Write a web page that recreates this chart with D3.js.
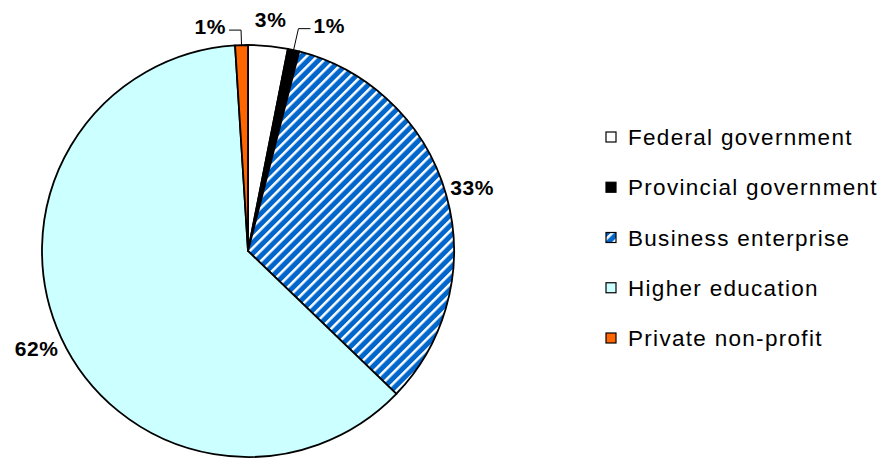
<!DOCTYPE html>
<html>
<head>
<meta charset="utf-8">
<script src="https://cdn.jsdelivr.net/npm/d3@7"></script>
<style>
  body { margin: 0; background: #fff; }
  svg { display: block; font-family: "Liberation Sans", Arial, sans-serif; }
</style>
</head>
<body>
<svg></svg>
<script>
// R&D performance by sector (share of total)
var categories = ["Federal government", "Provincial government", "Business enterprise", "Higher education", "Private non-profit"];
var values = [3.1, 0.9, 33.2, 61.8, 1.0];
var colors = ["#ffffff", "#000000", "url(#stripes)", "#ccffff", "#ff6600"];

var w = 881;
var h = 458;
var cx = 248, cy = 251, r = 206;

var svg = d3.select("svg")
    .attr("width", w)
    .attr("height", h);

// blue with white diagonal stripes
var pat = svg.append("defs").append("pattern")
    .attr("id", "stripes")
    .attr("patternUnits", "userSpaceOnUse")
    .attr("width", 7.5)
    .attr("height", 7.5)
    .attr("patternTransform", "rotate(45)");
pat.append("rect").attr("width", 7.5).attr("height", 7.5).attr("fill", "#0066cc");
pat.append("rect").attr("width", 2.5).attr("height", 7.5).attr("fill", "#ffffff");

var pie = d3.pie().sort(null).value(function (d) { return d; });
var arcs = pie(values);

var arc = d3.arc().innerRadius(0).outerRadius(r);
var labelArc = d3.arc().innerRadius(233).outerRadius(233);

var g = svg.append("g").attr("transform", "translate(" + cx + "," + cy + ")");

g.selectAll("path")
    .data(arcs)
    .enter()
    .append("path")
    .attr("d", arc)
    .attr("fill", function (d, i) { return colors[i]; })
    .attr("stroke", "#000")
    .attr("stroke-width", 1.8)
    .attr("stroke-linejoin", "round");

function mid(d) { return (d.startAngle + d.endAngle) / 2; }
function pct(d) { return Math.round(d.data) + "%"; }
function small(d) { return d.data < 1.5; }

// labels for the bigger slices sit just outside the rim
g.selectAll("text.big")
    .data(arcs.filter(function (d) { return !small(d); }))
    .enter()
    .append("text")
    .attr("class", "big")
    .attr("x", function (d) { return labelArc.centroid(d)[0]; })
    .attr("y", function (d) { return labelArc.centroid(d)[1]; })
    .attr("dy", "0.36em")
    .attr("text-anchor", "middle")
    .attr("font-size", "21px")
    .attr("font-weight", "bold")
    .attr("letter-spacing", "0.6px")
    .text(pct);

// thin slices get a leader line
var lead = arcs.filter(small);
lead.forEach(function (d) {
    var a = mid(d);
    var side = Math.sin(a) >= 0 ? 1 : -1;
    var len = side > 0 ? 22 : 15;
    var x0 = Math.sin(a) * r, y0 = -Math.cos(a) * r;
    var x1 = Math.sin(a) * (r + len), y1 = -Math.cos(a) * (r + len);
    var x2 = x1 + side * 12;
    g.append("polyline")
        .attr("points", [[x0, y0], [x1, y1], [x2, y1]].join(" "))
        .attr("fill", "none")
        .attr("stroke", "#000")
        .attr("stroke-width", 1);
    g.append("text")
        .attr("x", x2 + side * 3)
        .attr("y", y1)
        .attr("dy", "0.2em")
        .attr("text-anchor", side > 0 ? "start" : "end")
        .attr("font-size", "21px")
        .attr("font-weight", "bold")
        .attr("letter-spacing", "0.6px")
        .text(pct(d));
});

// legend
var ly = d3.scalePoint().domain(categories).range([137, 338]);

var legend = svg.selectAll("g.leg")
    .data(categories)
    .enter()
    .append("g")
    .attr("class", "leg")
    .attr("transform", function (d) { return "translate(606," + ly(d) + ")"; });

legend.append("rect")
    .attr("x", 0)
    .attr("y", -5)
    .attr("width", 10)
    .attr("height", 10)
    .attr("fill", function (d, i) { return colors[i]; })
    .attr("stroke", "#000")
    .attr("stroke-width", 1.2);

legend.append("text")
    .attr("x", 22)
    .attr("y", 0)
    .attr("dy", "0.36em")
    .attr("font-size", "22.5px")
    .attr("letter-spacing", "1.3px")
    .text(function (d) { return d; });
</script>
</body>
</html>
